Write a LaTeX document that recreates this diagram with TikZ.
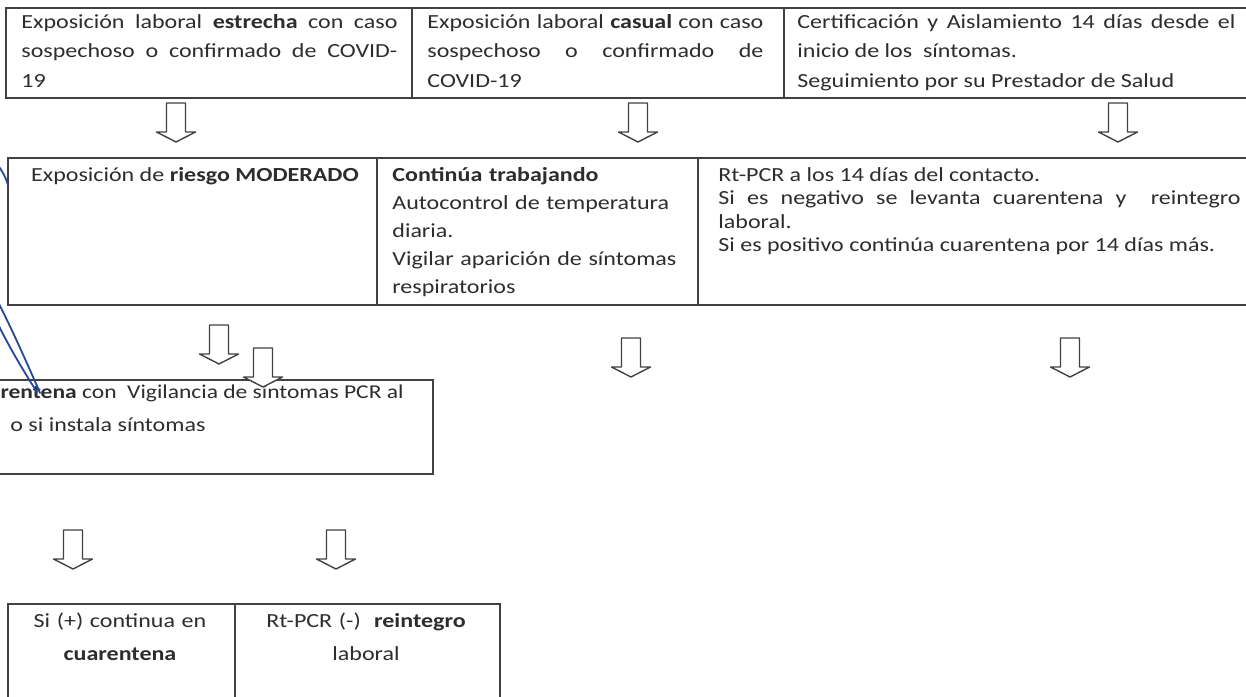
\documentclass[tikz,border=0pt]{standalone}
\usepackage{fontspec}
\setmainfont{Carlito}[FakeStretch=1.2]
\usepackage{tikz}
\usetikzlibrary{calc}
\definecolor{ScanInk}{RGB}{45,45,45}
\definecolor{ScanLine}{RGB}{65,65,65}
\definecolor{PenBlue}{RGB}{38,72,150}
\tikzset{
  cell/.style={draw=ScanLine,line width=0.8pt,anchor=north west,inner sep=0pt},
  toptxt/.style={anchor=base west,inner sep=0pt,text=ScanInk,
    font=\fontsize{10}{14.75}\selectfont},
  midtxt/.style={anchor=base west,inner sep=0pt,text=ScanInk,
    font=\fontsize{10}{11.75}\selectfont},
  lowtxt/.style={anchor=base west,inner sep=0pt,text=ScanInk,
    font=\fontsize{10}{16.5}\selectfont},
  blockarrow/.style={draw=ScanLine,line width=0.7pt,line join=round,fill=white},
  penline/.style={draw=PenBlue,line width=0.9pt,line cap=round}
}
\newcommand{\blockdown}[1]{%
  \draw[blockarrow] (#1) ++(-9.5,0) -- ++(19,0) -- ++(0,29) -- ++(10,0)
    -- ++(-19.5,10) -- ++(-19.5,-10) -- ++(10,0) -- cycle;}

\begin{document}
\begin{tikzpicture}[x=0.5pt,y=-0.5pt]
  \useasboundingbox (0,0) rectangle (1246,696);
  \clip (0,0) rectangle (1246,696);
  \fill[white] (0,0) rectangle (1246,696);

  \node[cell,minimum width=203pt,minimum height=45pt] (expA) at (5,7) {};
  \node[cell,minimum width=186pt,minimum height=45pt] (expB) at (411,7) {};
  \node[cell,minimum width=236pt,minimum height=45pt] (expC) at (783,7) {};
  \node[toptxt,text width=188pt,align=justify] (expAtxt) at (21,28)
    {Exposición laboral \textbf{estrecha} con caso\linebreak
     sospechoso o confirmado de COVID-\linebreak 19};
  \node[toptxt,text width=168pt,align=justify] (expBtxt) at (427,28)
    {Exposición laboral \textbf{casual} con caso\linebreak
     sospechoso o confirmado de\linebreak COVID-19};
  \node[toptxt,text width=219pt,align=justify] (expCtxt) at (797,28)
    {Certificación y Aislamiento 14 días desde el\linebreak
     inicio de los~~síntomas.\\ Seguimiento por su Prestador de Salud};

  \coordinate (dA) at (176,103);
  \coordinate (dB) at (638,103);
  \coordinate (dC) at (1118,103);
  \blockdown{dA}
  \blockdown{dB}
  \blockdown{dC}

  \node[cell,minimum width=184.5pt,minimum height=73.5pt] (modD) at (7,157) {};
  \node[cell,minimum width=160.5pt,minimum height=73.5pt] (trabE) at (376,157) {};
  \node[cell,minimum width=280pt,minimum height=73.5pt] (pcrF) at (697,157) {};
  \node[midtxt,anchor=base] (modDtxt) at (195,181)
    {Exposición de \textbf{riesgo MODERADO}};
  \node[midtxt,text width=150pt,align=left,
    font=\fontsize{10}{14}\selectfont] (trabEtxt) at (392,181)
    {\textbf{Continúa trabajando}\\ Autocontrol de temperatura\\ diaria.\\
     Vigilar aparición de síntomas\\ respiratorios};
  \node[midtxt,text width=261pt,align=justify] (pcrFtxt) at (718,181)
    {Rt-PCR a los 14 días del contacto.\\
     Si es negativo se levanta cuarentena y~~reintegro\linebreak laboral.\\
     Si es positivo continúa cuarentena por 14 días más.};

  \coordinate (dD) at (219,325);
  \coordinate (dE) at (263,348);
  \coordinate (dF) at (631,338);
  \coordinate (dG) at (1070,338);

  \node[cell,minimum width=228pt,minimum height=47pt] (cuarG) at (-24,379) {};
  \node[lowtxt,anchor=base east,font=\fontsize{9.8}{16.5}\selectfont] (cuarGa)
    at (404,398) {\textbf{rentena} con~~Vigilancia de síntomas PCR al};
  \node[lowtxt] (cuarGb) at (10,431) {o si instala síntomas};
  \blockdown{dD}
  \blockdown{dE}
  \blockdown{dF}
  \blockdown{dG}

  \draw[penline] (-3,164) .. controls (3,172) and (6,178) .. (8,185);
  \draw[penline] (-3,300) .. controls (10,325) and (28,365) .. (40,393);
  \draw[penline] (-3,322) .. controls (8,345) and (24,372) .. (37,392);

  \coordinate (dH) at (73,530);
  \coordinate (dI) at (336,530);
  \blockdown{dH}
  \blockdown{dI}

  \node[cell,minimum width=113.5pt,minimum height=60pt] (posH) at (7,603) {};
  \node[cell,minimum width=132.5pt,minimum height=60pt] (negI) at (234,603) {};
  \node[lowtxt,anchor=base,text width=110pt,align=center] (posHtxt) at (120,627)
    {Si (+) continua en\\ \textbf{cuarentena}};
  \node[lowtxt,anchor=base,text width=128pt,align=center] (negItxt) at (366,627)
    {Rt-PCR (-)~~\textbf{reintegro}\\ laboral};
\end{tikzpicture}
\end{document}
